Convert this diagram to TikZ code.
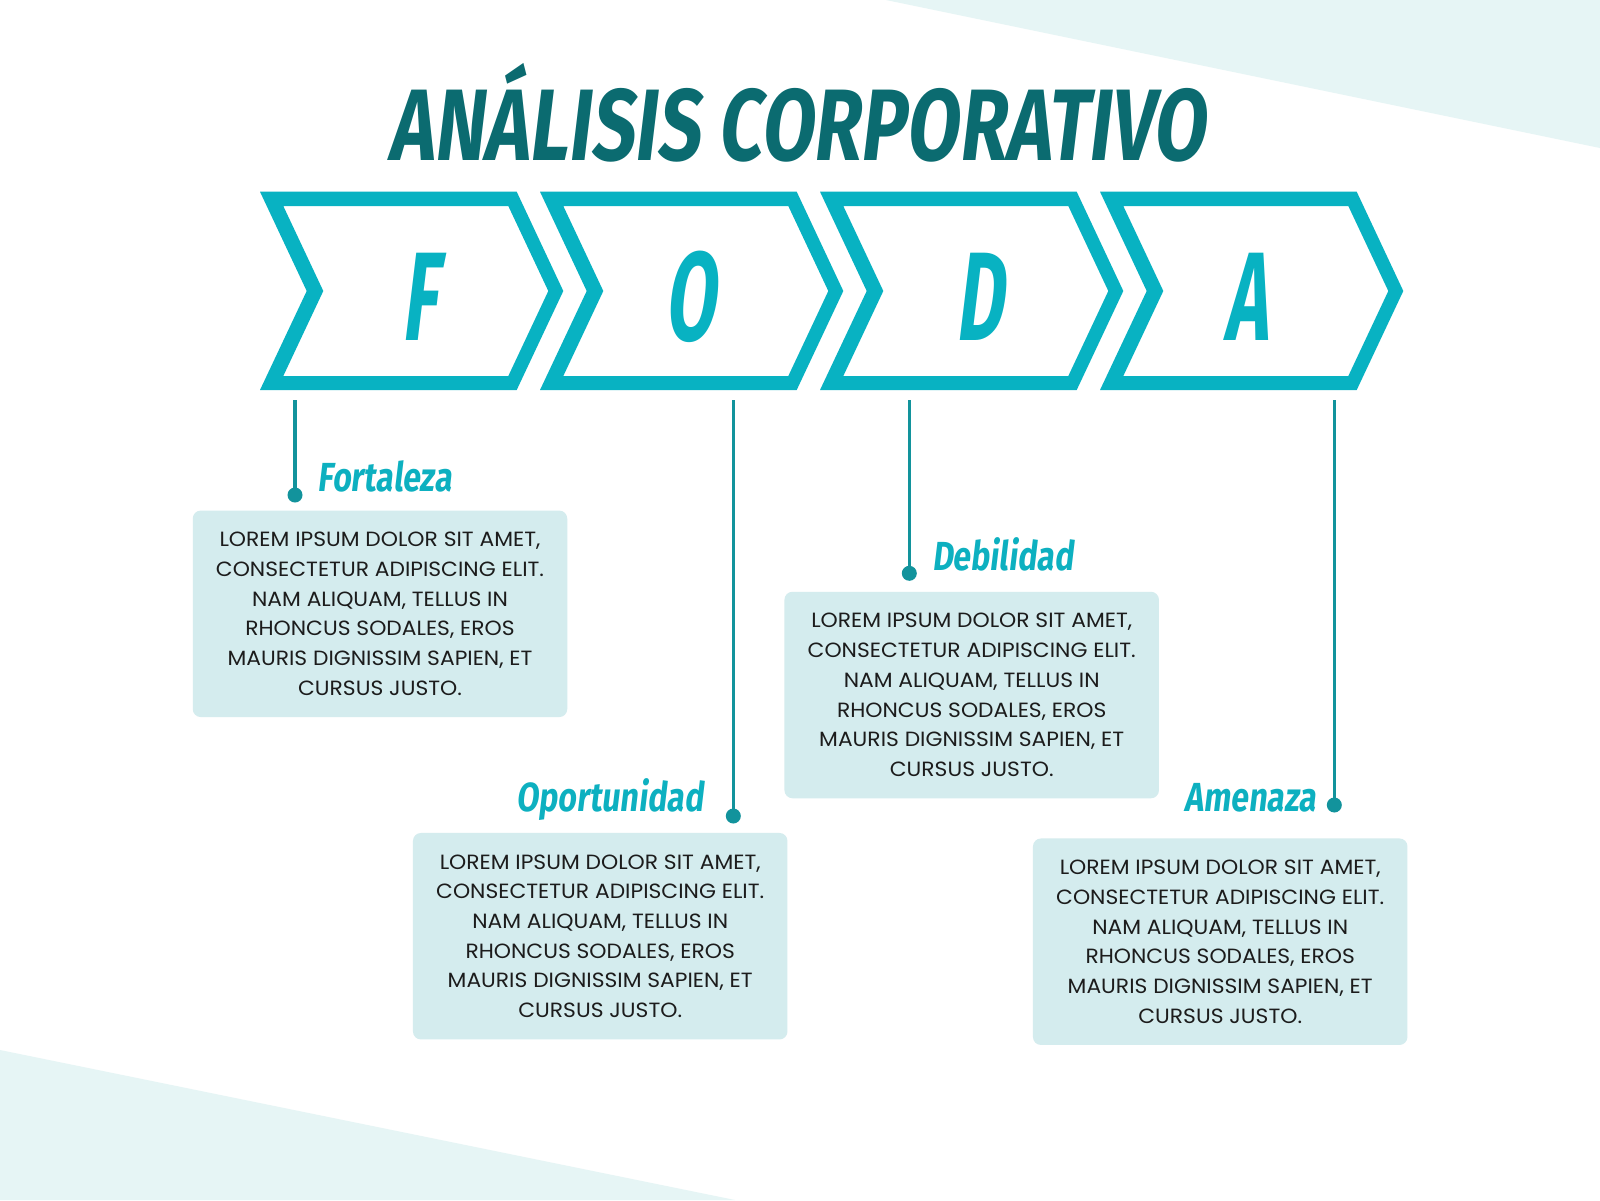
\documentclass[tikz,border=0pt]{standalone}
\usepackage{fontspec}
\newfontfamily\titlefont[FakeStretch=0.75,FakeSlant=0.12]{Fira Sans}
\newfontfamily\letterfont[FakeStretch=0.58,FakeSlant=0.12]{Fira Sans}
\newfontfamily\labelfont[FakeStretch=0.79,FakeSlant=0.12]{Fira Sans}
\newfontfamily\bodyfont[FakeStretch=1.06]{Poppins}
\definecolor{chevcol}{HTML}{08B2C2}
\definecolor{labcol}{HTML}{0DB0C0}
\definecolor{linecol}{HTML}{12939C}
\definecolor{titlecol}{HTML}{0B6B70}
\definecolor{boxcol}{HTML}{D4ECEE}
\definecolor{bgcol}{HTML}{E6F5F5}
\definecolor{txtcol}{HTML}{1C1C1C}
\begin{document}
\begin{tikzpicture}[x=0.5pt,y=-0.5pt,
  chevron/.style={fill=chevcol,even odd rule},
  bigletter/.style={anchor=base,inner sep=0pt,text=chevcol,font=\letterfont\bfseries\fontsize{63pt}{63pt}\selectfont},
  lab/.style={inner sep=0pt,text=labcol,font=\labelfont\bfseries\fontsize{20.3pt}{20.3pt}\selectfont},
  dotnode/.style={circle,fill=linecol,inner sep=0pt,minimum size=7.5pt},
  conn/.style={draw=linecol,line width=1.65pt},
  infobox/.style={fill=boxcol,rounded corners=4pt,inner sep=0pt,minimum width=187.25pt,minimum height=103.25pt,align=center,text=txtcol,font=\bodyfont\fontsize{10.3pt}{14.85pt}\selectfont}
]
\useasboundingbox (0,0) rectangle (1600,1200);
\fill[white] (0,0) rectangle (1600,1200);
% background triangles
\fill[bgcol] (886,0) -- (1600,0) -- (1600,148) -- cycle;
\fill[bgcol] (0,1050) -- (735,1200) -- (0,1200) -- cycle;
% title
\node[anchor=base,inner sep=0pt,text=titlecol,font=\titlefont\bfseries\fontsize{50.8pt}{50.8pt}\selectfont] (title) at (797,160) {ANÁLISIS CORPORATIVO};
% chevrons
\foreach \L in {260,540,820,1100}{
  \fill[chevron] (\L,191.7) -- (\L+256.7,191.7) -- (\L+303.3,291) -- (\L+256.7,390) -- (\L,390) -- (\L+46.7,291) -- cycle
    (\L+23.3,206) -- (\L+248.3,206) -- (\L+288.3,291) -- (\L+248.3,376) -- (\L+23.3,376) -- (\L+63.3,291) -- cycle;
}
\node[bigletter] (lF) at (419.5,340) {F};
\node[bigletter] (lO) at (690,340) {O};
\node[bigletter] (lD) at (979,340) {D};
\node[bigletter] (lA) at (1246,340) {A};
% connectors
\coordinate (t1) at (295,400);
\coordinate (t2) at (733.3,400);
\coordinate (t3) at (909.3,400);
\coordinate (t4) at (1334.3,400);
\node[dotnode] (d1) at (295,495) {};
\node[dotnode] (d2) at (733.3,816) {};
\node[dotnode] (d3) at (909.3,573.3) {};
\node[dotnode] (d4) at (1334.3,805) {};
\draw[conn] (t1) -- (d1.center);
\draw[conn] (t2) -- (d2.center);
\draw[conn] (t3) -- (d3.center);
\draw[conn] (t4) -- (d4.center);
% labels
\node[lab,anchor=base west] (l1) at (317.3,491.7) {Fortaleza};
\node[lab,anchor=base east] (l2) at (704,811.7) {Oportunidad};
\node[lab,anchor=base west] (l3) at (931.7,570) {Debilidad};
\node[lab,anchor=base east] (l4) at (1316.7,811.7) {Amenaza};
% boxes
\node[infobox] (b1) at (380,613.8) {LOREM IPSUM DOLOR SIT AMET,\\CONSECTETUR ADIPISCING ELIT.\\NAM ALIQUAM, TELLUS IN\\RHONCUS SODALES, EROS\\MAURIS DIGNISSIM SAPIEN, ET\\CURSUS JUSTO.};
\node[infobox] (b2) at (600.2,936.2) {LOREM IPSUM DOLOR SIT AMET,\\CONSECTETUR ADIPISCING ELIT.\\NAM ALIQUAM, TELLUS IN\\RHONCUS SODALES, EROS\\MAURIS DIGNISSIM SAPIEN, ET\\CURSUS JUSTO.};
\node[infobox] (b3) at (971.7,695) {LOREM IPSUM DOLOR SIT AMET,\\CONSECTETUR ADIPISCING ELIT.\\NAM ALIQUAM, TELLUS IN\\RHONCUS SODALES, EROS\\MAURIS DIGNISSIM SAPIEN, ET\\CURSUS JUSTO.};
\node[infobox] (b4) at (1220.2,941.7) {LOREM IPSUM DOLOR SIT AMET,\\CONSECTETUR ADIPISCING ELIT.\\NAM ALIQUAM, TELLUS IN\\RHONCUS SODALES, EROS\\MAURIS DIGNISSIM SAPIEN, ET\\CURSUS JUSTO.};
\end{tikzpicture}
\end{document}
